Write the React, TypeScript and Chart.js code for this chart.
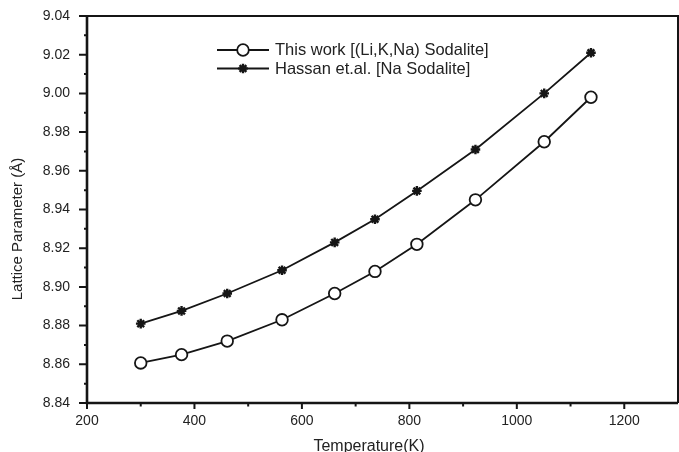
import React, { useEffect, useRef } from "react";
import { Chart, registerables } from "chart.js";

Chart.register(...registerables);

// ---- data ----
const temperatures = [300, 376, 461, 563, 661, 736, 814, 923, 1051, 1138];
const thisWork = [8.8607, 8.865, 8.872, 8.883, 8.8966, 8.908, 8.922, 8.945, 8.975, 8.998];
const hassan = [8.881, 8.8876, 8.8966, 8.9086, 8.923, 8.935, 8.9496, 8.971, 9.0, 9.021];
const seriesLabels = ["This work [(Li,K,Na) Sodalite]", "Hassan et.al. [Na Sodalite]"];
const xTickValues = [200, 400, 600, 800, 1000, 1200];
const yTickValues = [8.84, 8.86, 8.88, 8.9, 8.92, 8.94, 8.96, 8.98, 9.0, 9.02, 9.04];
const xTitle = "Temperature(K)";
const yTitle = "Lattice Parameter (Å)";

const FONT = "'Liberation Sans', Arial, sans-serif";
const INK = "#151515";
const TEXT = "#222222";

function drawMarker(ctx: CanvasRenderingContext2D, style: string, x: number, y: number, r: number) {
  ctx.save();
  ctx.strokeStyle = INK;
  if (style === "circle") {
    ctx.lineWidth = 1.8;
    ctx.fillStyle = "#ffffff";
    ctx.beginPath();
    ctx.arc(x, y, r, 0, Math.PI * 2);
    ctx.fill();
    ctx.stroke();
  } else {
    ctx.lineWidth = 2.4;
    ctx.beginPath();
    for (let k = 0; k < 4; k++) {
      const a = (k * Math.PI) / 4;
      ctx.moveTo(x - r * Math.cos(a), y - r * Math.sin(a));
      ctx.lineTo(x + r * Math.cos(a), y + r * Math.sin(a));
    }
    ctx.stroke();
  }
  ctx.restore();
}

const zeroPad = (scale: any) => {
  scale.paddingTop = 0;
  scale.paddingBottom = 0;
  scale.paddingLeft = 0;
  scale.paddingRight = 0;
};

const decorPlugin = {
  id: "decor",
  afterDraw(chart: any) {
    const ctx: CanvasRenderingContext2D = chart.ctx;
    const { left, right, top, bottom } = chart.chartArea;
    const xs = chart.scales.x;
    const ys = chart.scales.y;
    ctx.save();
    // frame
    ctx.strokeStyle = INK;
    ctx.lineWidth = 2;
    ctx.beginPath();
    ctx.moveTo(left, top);
    ctx.lineTo(right, top);
    ctx.lineTo(right, bottom);
    ctx.stroke();
    ctx.lineWidth = 2.6;
    ctx.beginPath();
    ctx.moveTo(left, top - 1);
    ctx.lineTo(left, bottom);
    ctx.lineTo(right, bottom);
    ctx.stroke();

    // ticks
    ctx.lineWidth = 2;
    ctx.beginPath();
    for (let i = 0; i < yTickValues.length; i++) {
      const py = ys.getPixelForValue(yTickValues[i]);
      ctx.moveTo(left - 8, py);
      ctx.lineTo(left, py);
      if (i < yTickValues.length - 1) {
        const my = ys.getPixelForValue((yTickValues[i] + yTickValues[i + 1]) / 2);
        ctx.moveTo(left - 3, my);
        ctx.lineTo(left, my);
      }
    }
    for (let i = 0; i < xTickValues.length; i++) {
      const px = xs.getPixelForValue(xTickValues[i]);
      ctx.moveTo(px, bottom);
      ctx.lineTo(px, bottom + 6);
      const mid = xTickValues[i] + (xTickValues[1] - xTickValues[0]) / 2;
      if (mid < xs.max) {
        const mx = xs.getPixelForValue(mid);
        ctx.moveTo(mx, bottom);
        ctx.lineTo(mx, bottom + 3.5);
      }
    }
    ctx.stroke();

    // axis titles
    ctx.fillStyle = TEXT;
    ctx.font = `16px ${FONT}`;
    ctx.textAlign = "center";
    ctx.textBaseline = "alphabetic";
    ctx.fillText(xTitle, 369, 451);

    ctx.save();
    ctx.translate(22, 229);
    ctx.rotate(-Math.PI / 2);
    ctx.font = `15px ${FONT}`;
    ctx.textAlign = "center";
    ctx.textBaseline = "alphabetic";
    ctx.fillText(yTitle, 0, 0);
    ctx.restore();

    // legend
    const rows = [50, 68.5];
    const styles = ["circle", "star"];
    chart.data.datasets.forEach((ds: any, i: number) => {
      const y = rows[i];
      ctx.strokeStyle = INK;
      ctx.lineWidth = 1.8;
      ctx.beginPath();
      ctx.moveTo(217, y);
      ctx.lineTo(269, y);
      ctx.stroke();
      drawMarker(ctx, styles[i], 243, y, styles[i] === "circle" ? 5.8 : 4.8);
      ctx.fillStyle = TEXT;
      ctx.font = `16.5px ${FONT}`;
      ctx.textAlign = "left";
      ctx.textBaseline = "middle";
      ctx.fillText(ds.label, 275, y + 0.5);
    });
    ctx.restore();
  },
};

export default function App() {
  const canvasRef = useRef<HTMLCanvasElement | null>(null);

  useEffect(() => {
    if (!canvasRef.current) return;
    const chart = new Chart(canvasRef.current, {
      type: "line",
      data: {
        datasets: [
          {
            label: seriesLabels[0],
            data: temperatures.map((t, i) => ({ x: t, y: thisWork[i] })),
            borderColor: INK,
            borderWidth: 1.8,
            pointStyle: "circle",
            pointRadius: 5.8,
            pointBorderWidth: 1.8,
            pointBackgroundColor: "#ffffff",
            pointBorderColor: INK,
            tension: 0,
          },
          {
            label: seriesLabels[1],
            data: temperatures.map((t, i) => ({ x: t, y: hassan[i] })),
            borderColor: INK,
            borderWidth: 1.8,
            pointStyle: "star",
            pointRadius: 4.8,
            pointBorderWidth: 2.4,
            pointBackgroundColor: INK,
            pointBorderColor: INK,
            tension: 0,
          },
        ],
      },
      options: {
        animation: false,
        responsive: false,
        devicePixelRatio: 1,
        layout: { autoPadding: false, padding: { top: 16, right: 1, left: 0, bottom: 0 } },
        plugins: {
          legend: { display: false },
          tooltip: { enabled: false },
          title: { display: false },
        },
        scales: {
          x: {
            type: "linear",
            min: 200,
            max: 1300,
            grid: { display: false, drawTicks: false },
            border: { display: false },
            afterBuildTicks: (scale: any) => {
              scale.ticks = xTickValues.map((v) => ({ value: v }));
            },
            afterFit: (scale: any) => {
              scale.height = 49;
              zeroPad(scale);
            },
            ticks: {
              color: TEXT,
              padding: 10,
              maxRotation: 0,
              font: { family: FONT, size: 14 },
              callback: (v: any) => String(v),
            },
          },
          y: {
            type: "linear",
            min: 8.84,
            max: 9.04,
            grid: { display: false, drawTicks: false },
            border: { display: false },
            afterBuildTicks: (scale: any) => {
              scale.ticks = yTickValues.map((v) => ({ value: v }));
            },
            afterFit: (scale: any) => {
              scale.width = 87;
              zeroPad(scale);
            },
            ticks: {
              color: TEXT,
              padding: 17,
              font: { family: FONT, size: 14 },
              callback: (v: any) => Number(v).toFixed(2),
            },
          },
        },
      },
      plugins: [decorPlugin],
    });
    return () => chart.destroy();
  }, []);

  return (
    <div style={{ position: "fixed", left: 0, top: 0, width: 679, height: 452, background: "#fff" }}>
      <canvas ref={canvasRef} width={679} height={452} style={{ display: "block" }} />
    </div>
  );
}
